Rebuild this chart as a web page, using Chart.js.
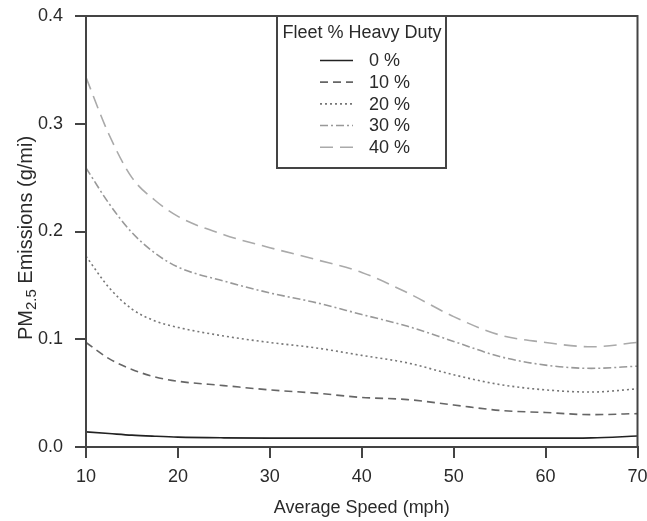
<!DOCTYPE html>
<html>
<head>
<meta charset="utf-8">
<script src="https://cdn.jsdelivr.net/npm/chart.js@4"></script>
<style>
  html, body { margin: 0; padding: 0; background: #fff; }
  #wrap { width: 647px; height: 521px; }
</style>
</head>
<body>
<div id="wrap"><canvas id="graph" width="647" height="521"></canvas></div>
<script>
// average speed (mph)
let speeds = [10, 12.5, 15, 17.5, 20, 25, 30, 35, 40, 45, 50, 55, 60, 65, 70];
let etiquetas = ["0 %", "10 %", "20 %", "30 %", "40 %"];
let yTicks = [0.0, 0.1, 0.2, 0.3, 0.4];
let xTicks = [10, 20, 30, 40, 50, 60, 70];
// PM2.5 emissions (g/mi) by fleet % heavy duty
let hd0  = [0.014, 0.0125, 0.011, 0.010, 0.0092, 0.0085, 0.0082, 0.0082, 0.0082, 0.0082, 0.0082, 0.0082, 0.0082, 0.0085, 0.0102];
let hd10 = [0.097, 0.082, 0.072, 0.065, 0.061, 0.057, 0.053, 0.050, 0.046, 0.044, 0.039, 0.034, 0.032, 0.030, 0.031];
let hd20 = [0.177, 0.148, 0.128, 0.117, 0.111, 0.103, 0.097, 0.092, 0.085, 0.078, 0.067, 0.058, 0.053, 0.051, 0.054];
let hd30 = [0.259, 0.226, 0.199, 0.180, 0.167, 0.154, 0.143, 0.134, 0.123, 0.112, 0.098, 0.084, 0.076, 0.073, 0.075];
let hd40 = [0.343, 0.290, 0.250, 0.229, 0.214, 0.197, 0.185, 0.174, 0.162, 0.143, 0.121, 0.104, 0.097, 0.093, 0.097];

const series = [hd0, hd10, hd20, hd30, hd40];
const colores = ['#222222', '#666666', '#777777', '#999999', '#aaaaaa'];
const dashes = [[], [8, 5], [2, 3], [8, 3, 2, 3], [13, 7]];
const FONT = '"Liberation Sans", Arial, sans-serif';
const TXT = '#2a2a2a';
const EJE = '#444444';

const puntos = (arr) => arr.map((v, i) => ({x: speeds[i], y: v}));

// marco, caja de leyenda y titulo del eje y con subindice
const extras = {
  id: 'extras',
  afterDraw(chart) {
    const ctx = chart.ctx;
    const a = chart.chartArea;
    ctx.save();
    ctx.strokeStyle = EJE;
    ctx.lineWidth = 2;
    ctx.strokeRect(a.left, a.top, a.right - a.left, a.bottom - a.top);

    // leyenda
    const bx = 277, by = a.top, bw = 169, bh = 152;
    ctx.fillStyle = '#fff';
    ctx.fillRect(bx, by, bw, bh);
    ctx.strokeRect(bx, by, bw, bh);
    ctx.fillStyle = TXT;
    ctx.font = '18px ' + FONT;
    ctx.textAlign = 'center';
    ctx.textBaseline = 'middle';
    ctx.fillText('Fleet % Heavy Duty', bx + bw / 2 + 0.5, 33);
    chart.data.datasets.forEach((ds, i) => {
      const y = 61.5 + i * 21.67;
      ctx.strokeStyle = ds.borderColor;
      ctx.lineWidth = 1.6;
      ctx.setLineDash(ds.borderDash);
      ctx.beginPath();
      ctx.moveTo(320, y - 1);
      ctx.lineTo(353, y - 1);
      ctx.stroke();
      ctx.setLineDash([]);
      ctx.fillStyle = TXT;
      ctx.textAlign = 'left';
      ctx.fillText(ds.label, 369, y);
    });

    // titulo eje y
    ctx.translate(32, 238);
    ctx.rotate(-Math.PI / 2);
    const p1 = 'PM', sub = '2.5', p2 = ' Emissions (g/mi)';
    ctx.font = '20px ' + FONT;
    const w1 = ctx.measureText(p1).width, w3 = ctx.measureText(p2).width;
    ctx.font = '15px ' + FONT;
    const w2 = ctx.measureText(sub).width;
    let x0 = -(w1 + w2 + w3) / 2;
    ctx.textAlign = 'left';
    ctx.textBaseline = 'alphabetic';
    ctx.fillStyle = TXT;
    ctx.font = '20px ' + FONT;
    ctx.fillText(p1, x0, 0);
    ctx.font = '15px ' + FONT;
    ctx.fillText(sub, x0 + w1, 4);
    ctx.font = '20px ' + FONT;
    ctx.fillText(p2, x0 + w1 + w2, 0);
    ctx.restore();
  }
};

const data = {
  datasets: series.map((s, i) => ({
    label: etiquetas[i],
    data: puntos(s),
    borderColor: colores[i],
    borderDash: dashes[i],
    borderWidth: 1.6,
    pointRadius: 0,
    fill: false,
    cubicInterpolationMode: 'monotone'
  }))
};

const config = {
  type: 'line',
  data: data,
  options: {
    responsive: false,
    animation: false,
    layout: { padding: { left: 0, right: 9.5, top: 16, bottom: 0 } },
    plugins: { legend: { display: false }, tooltip: { enabled: false } },
    scales: {
      x: {
        type: 'linear',
        min: 10, max: 70,
        afterFit: (s) => { s.height = 74; s.paddingLeft = 0; s.paddingRight = 0; },
        afterBuildTicks: (s) => { s.ticks = xTicks.map(v => ({value: v})); },
        grid: { drawOnChartArea: false, tickLength: 11, color: EJE, lineWidth: 2 },
        border: { color: EJE, width: 2 },
        ticks: { color: TXT, font: { family: FONT, size: 18 }, padding: 8, maxRotation: 0 },
        title: { display: true, text: 'Average Speed (mph)', color: TXT, font: { family: FONT, size: 18 }, padding: { top: 0, bottom: 2 } }
      },
      y: {
        min: 0, max: 0.4,
        afterFit: (s) => { s.width = 86; s.paddingTop = 0; s.paddingBottom = 0; },
        afterBuildTicks: (s) => { s.ticks = yTicks.map(v => ({value: v})); },
        grid: { drawOnChartArea: false, tickLength: 11, color: EJE, lineWidth: 2 },
        border: { color: EJE, width: 2 },
        ticks: { color: TXT, font: { family: FONT, size: 18 }, padding: 12, callback: (v) => v.toFixed(1) }
      }
    }
  },
  plugins: [extras]
};

new Chart(document.getElementById('graph'), config);
</script>
</body>
</html>
